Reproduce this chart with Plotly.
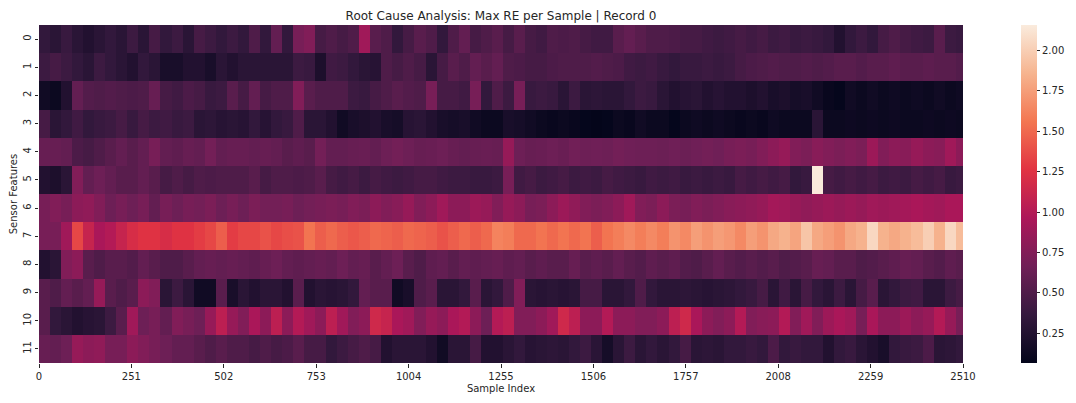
import plotly.graph_objects as go

# sample-index bins (edges) of 30 samples each, 0..2510
bin_edges = list(range(0, 2510, 30)) + [2510]

sensor_labels = [str(i) for i in range(12)]
x_ticks = [0, 251, 502, 753, 1004, 1255, 1506, 1757, 2008, 2259, 2510]

# max reconstruction error per bin, one list per sensor feature
sensor_0 = [0.35, 0.3, 0.38, 0.3, 0.25, 0.3, 0.35, 0.3, 0.4, 0.3, 0.45, 0.35, 0.4, 0.3, 0.45, 0.4, 0.35, 0.4, 0.35, 0.5, 0.35,
            0.6, 0.35, 0.7, 0.75, 0.45, 0.5, 0.45, 0.5, 0.9, 0.55, 0.5, 0.35, 0.45, 0.55, 0.5, 0.35, 0.5, 0.6, 0.45, 0.5, 0.55,
            0.45, 0.55, 0.45, 0.42, 0.5, 0.48, 0.5, 0.45, 0.42, 0.42, 0.55, 0.6, 0.55, 0.5, 0.5, 0.48, 0.45, 0.45, 0.42, 0.4, 0.42,
            0.45, 0.42, 0.45, 0.4, 0.42, 0.38, 0.4, 0.38, 0.35, 0.25, 0.35, 0.4, 0.35, 0.45, 0.5, 0.45, 0.42, 0.4, 0.55, 0.4, 0.38]
sensor_1 = [0.4, 0.45, 0.4, 0.35, 0.3, 0.4, 0.35, 0.3, 0.25, 0.35, 0.3, 0.2, 0.2, 0.25, 0.25, 0.2, 0.3, 0.25, 0.3, 0.3, 0.3,
            0.3, 0.3, 0.4, 0.38, 0.22, 0.42, 0.4, 0.35, 0.3, 0.28, 0.5, 0.45, 0.5, 0.45, 0.3, 0.45, 0.55, 0.5, 0.6, 0.55, 0.6,
            0.5, 0.48, 0.45, 0.45, 0.48, 0.5, 0.5, 0.5, 0.52, 0.5, 0.48, 0.42, 0.4, 0.42, 0.38, 0.35, 0.38, 0.38, 0.4, 0.38, 0.4,
            0.45, 0.48, 0.5, 0.52, 0.5, 0.5, 0.52, 0.5, 0.52, 0.55, 0.55, 0.52, 0.55, 0.55, 0.58, 0.55, 0.55, 0.57, 0.55, 0.55, 0.52]
sensor_2 = [0.15, 0.12, 0.25, 0.6, 0.52, 0.5, 0.52, 0.5, 0.48, 0.5, 0.62, 0.45, 0.42, 0.48, 0.45, 0.38, 0.4, 0.55, 0.45, 0.6, 0.45,
            0.5, 0.5, 0.75, 0.55, 0.5, 0.5, 0.5, 0.4, 0.38, 0.45, 0.5, 0.55, 0.52, 0.5, 0.7, 0.45, 0.45, 0.42, 0.7, 0.35, 0.5,
            0.4, 0.7, 0.38, 0.4, 0.38, 0.3, 0.4, 0.3, 0.32, 0.3, 0.3, 0.35, 0.4, 0.38, 0.3, 0.25, 0.28, 0.3, 0.25, 0.28, 0.25,
            0.25, 0.22, 0.25, 0.2, 0.22, 0.18, 0.2, 0.15, 0.1, 0.08, 0.15, 0.12, 0.15, 0.12, 0.14, 0.12, 0.14, 0.12, 0.15, 0.12, 0.14]
sensor_3 = [0.45, 0.3, 0.35, 0.42, 0.35, 0.38, 0.4, 0.45, 0.38, 0.45, 0.4, 0.42, 0.38, 0.4, 0.3, 0.32, 0.28, 0.3, 0.28, 0.35, 0.28,
            0.35, 0.38, 0.5, 0.3, 0.3, 0.25, 0.15, 0.2, 0.22, 0.25, 0.2, 0.18, 0.28, 0.3, 0.25, 0.2, 0.18, 0.2, 0.15, 0.12, 0.12,
            0.2, 0.18, 0.15, 0.12, 0.1, 0.12, 0.1, 0.08, 0.07, 0.08, 0.12, 0.1, 0.15, 0.12, 0.12, 0.08, 0.12, 0.14, 0.12, 0.14, 0.12,
            0.1, 0.12, 0.1, 0.14, 0.12, 0.12, 0.12, 0.3, 0.12, 0.12, 0.13, 0.12, 0.13, 0.12, 0.13, 0.12, 0.12, 0.13, 0.12, 0.13, 0.12]
sensor_4 = [0.62, 0.62, 0.6, 0.48, 0.45, 0.5, 0.55, 0.6, 0.55, 0.6, 0.7, 0.6, 0.58, 0.62, 0.6, 0.68, 0.6, 0.62, 0.62, 0.6, 0.62,
            0.6, 0.55, 0.58, 0.55, 0.68, 0.6, 0.6, 0.62, 0.63, 0.6, 0.65, 0.68, 0.65, 0.62, 0.63, 0.65, 0.62, 0.6, 0.62, 0.63, 0.62,
            0.85, 0.65, 0.62, 0.63, 0.65, 0.63, 0.67, 0.65, 0.66, 0.65, 0.68, 0.66, 0.65, 0.65, 0.64, 0.66, 0.64, 0.66, 0.68, 0.66, 0.7,
            0.72, 0.7, 0.75, 0.8, 0.85, 0.75, 0.72, 0.78, 0.75, 0.72, 0.75, 0.72, 0.88, 0.75, 0.8, 0.78, 0.85, 0.8, 0.78, 0.9, 0.8]
sensor_5 = [0.25, 0.22, 0.3, 0.75, 0.6, 0.65, 0.6, 0.55, 0.55, 0.6, 0.55, 0.45, 0.5, 0.45, 0.5, 0.48, 0.5, 0.5, 0.5, 0.55, 0.45,
            0.5, 0.5, 0.48, 0.5, 0.55, 0.45, 0.42, 0.45, 0.4, 0.45, 0.42, 0.4, 0.42, 0.45, 0.45, 0.42, 0.4, 0.4, 0.38, 0.38, 0.4,
            0.7, 0.42, 0.45, 0.4, 0.42, 0.45, 0.4, 0.42, 0.4, 0.45, 0.42, 0.4, 0.38, 0.42, 0.4, 0.42, 0.38, 0.4, 0.38, 0.4, 0.38,
            0.45, 0.42, 0.45, 0.42, 0.45, 0.35, 0.38, 2.15, 0.45, 0.42, 0.45, 0.42, 0.45, 0.4, 0.42, 0.4, 0.45, 0.42, 0.45, 0.38, 0.4]
sensor_6 = [0.7, 0.75, 0.7, 0.8, 0.82, 0.75, 0.65, 0.7, 0.65, 0.7, 0.6, 0.7, 0.65, 0.7, 0.68, 0.72, 0.65, 0.7, 0.65, 0.72, 0.68,
            0.68, 0.7, 0.65, 0.68, 0.7, 0.72, 0.7, 0.75, 0.72, 0.8, 0.75, 0.78, 0.85, 0.75, 0.8, 0.9, 0.8, 0.8, 0.88, 0.85, 0.75,
            0.85, 0.8, 0.7, 0.72, 0.8, 0.88, 0.82, 0.75, 0.72, 0.75, 0.8, 0.9, 0.75, 0.72, 0.8, 0.72, 0.7, 0.75, 0.72, 0.75, 0.78,
            0.8, 0.82, 0.85, 0.92, 0.9, 0.85, 0.82, 0.85, 0.88, 0.85, 0.88, 0.85, 0.9, 0.88, 0.9, 0.92, 0.95, 0.92, 0.9, 0.95, 0.95]
sensor_7 = [0.7, 0.7, 0.9, 1.35, 1.1, 0.95, 1.0, 1.1, 1.2, 1.25, 1.25, 1.2, 1.25, 1.25, 1.3, 1.35, 1.45, 1.3, 1.35, 1.35, 1.4,
            1.35, 1.38, 1.4, 1.55, 1.45, 1.5, 1.45, 1.42, 1.45, 1.5, 1.48, 1.45, 1.5, 1.48, 1.45, 1.4, 1.45, 1.5, 1.45, 1.5, 1.62,
            1.6, 1.5, 1.5, 1.55, 1.5, 1.55, 1.5, 1.55, 1.45, 1.55, 1.6, 1.65, 1.6, 1.65, 1.6, 1.7, 1.65, 1.75, 1.7, 1.75, 1.72,
            1.65, 1.75, 1.7, 1.8, 1.85, 1.78, 1.95, 1.8, 1.75, 1.7, 1.8, 1.85, 2.05, 1.85, 1.8, 1.85, 1.9, 2.0, 1.85, 2.05, 1.9]
sensor_8 = [0.25, 0.3, 0.75, 0.8, 0.55, 0.5, 0.55, 0.55, 0.52, 0.6, 0.55, 0.5, 0.5, 0.55, 0.6, 0.62, 0.6, 0.62, 0.6, 0.58, 0.62,
            0.65, 0.6, 0.58, 0.6, 0.62, 0.6, 0.65, 0.6, 0.62, 0.55, 0.6, 0.65, 0.55, 0.5, 0.58, 0.6, 0.55, 0.6, 0.58, 0.6, 0.62,
            0.58, 0.6, 0.55, 0.58, 0.55, 0.55, 0.62, 0.55, 0.58, 0.55, 0.6, 0.55, 0.52, 0.58, 0.55, 0.58, 0.52, 0.5, 0.55, 0.6, 0.55,
            0.52, 0.55, 0.52, 0.55, 0.5, 0.52, 0.55, 0.62, 0.6, 0.55, 0.55, 0.5, 0.52, 0.55, 0.58, 0.62, 0.6, 0.55, 0.52, 0.58, 0.55]
sensor_9 = [0.55, 0.5, 0.6, 0.55, 0.6, 0.85, 0.55, 0.5, 0.55, 0.8, 0.75, 0.3, 0.4, 0.3, 0.15, 0.15, 0.55, 0.2, 0.3, 0.25, 0.3,
            0.3, 0.25, 0.55, 0.25, 0.3, 0.28, 0.3, 0.35, 0.6, 0.55, 0.55, 0.15, 0.2, 0.5, 0.55, 0.3, 0.3, 0.35, 0.55, 0.3, 0.35,
            0.5, 0.75, 0.3, 0.28, 0.3, 0.28, 0.3, 0.45, 0.45, 0.3, 0.3, 0.35, 0.5, 0.35, 0.3, 0.3, 0.32, 0.3, 0.28, 0.3, 0.32,
            0.35, 0.38, 0.45, 0.3, 0.42, 0.3, 0.45, 0.35, 0.3, 0.4, 0.3, 0.45, 0.55, 0.3, 0.35, 0.4, 0.42, 0.3, 0.3, 0.4, 0.45]
sensor_10 = [0.55, 0.35, 0.3, 0.25, 0.28, 0.3, 0.4, 0.55, 0.9, 0.65, 0.7, 0.6, 0.75, 0.7, 0.65, 0.85, 1.05, 0.85, 0.75, 0.95, 0.8,
             1.05, 0.8, 1.0, 0.9, 0.8, 1.05, 0.9, 0.75, 0.8, 1.15, 1.1, 0.95, 0.9, 0.75, 0.85, 0.8, 0.95, 1.0, 0.8, 0.65, 1.0,
             1.05, 0.75, 0.75, 0.8, 0.9, 1.15, 1.05, 0.8, 0.8, 1.0, 0.8, 0.8, 0.75, 0.75, 0.8, 1.05, 1.15, 0.95, 0.8, 0.75, 0.8,
             1.0, 0.75, 0.78, 0.8, 1.0, 0.75, 0.9, 0.75, 0.88, 0.95, 0.9, 0.7, 0.95, 0.8, 0.8, 0.88, 0.8, 0.85, 1.0, 0.85, 0.7]
sensor_11 = [0.62, 0.6, 0.65, 0.85, 0.8, 0.82, 0.7, 0.7, 0.8, 0.75, 0.7, 0.65, 0.6, 0.6, 0.55, 0.5, 0.55, 0.5, 0.5, 0.45, 0.5,
             0.45, 0.48, 0.55, 0.45, 0.45, 0.35, 0.4, 0.45, 0.5, 0.45, 0.25, 0.3, 0.3, 0.3, 0.25, 0.15, 0.3, 0.3, 0.45, 0.25, 0.25,
             0.3, 0.35, 0.28, 0.3, 0.32, 0.3, 0.35, 0.4, 0.3, 0.18, 0.3, 0.4, 0.3, 0.35, 0.3, 0.35, 0.45, 0.3, 0.32, 0.3, 0.35,
             0.35, 0.38, 0.35, 0.48, 0.35, 0.38, 0.35, 0.35, 0.25, 0.35, 0.38, 0.3, 0.25, 0.2, 0.35, 0.38, 0.4, 0.48, 0.3, 0.32, 0.35]

z = [sensor_0, sensor_1, sensor_2, sensor_3, sensor_4, sensor_5,
     sensor_6, sensor_7, sensor_8, sensor_9, sensor_10, sensor_11]

# seaborn "rocket"
rocket = [
    [0.0, "#03051a"], [0.143, "#35193e"], [0.286, "#701f57"], [0.429, "#ad1759"],
    [0.571, "#e13342"], [0.714, "#f37651"], [0.857, "#f6b48f"], [1.0, "#faebdd"],
]

font = dict(family="DejaVu Sans", size=10, color="#262626")

fig = go.Figure(go.Heatmap(
    z=z,
    x=bin_edges,
    y=list(range(12)),
    colorscale=rocket,
    zmin=0.067,
    zmax=2.157,
    colorbar=dict(
        x=1.0628, xanchor="left", xpad=0,
        y=0.5, yanchor="middle", len=1.0, lenmode="fraction", ypad=0,
        thickness=16, outlinewidth=0,
        tickvals=[0.25, 0.5, 0.75, 1.0, 1.25, 1.5, 1.75, 2.0],
        tickformat=".2f", ticks="outside", ticklen=3.5, tickcolor="#262626",
        tickfont=font,
    ),
))

# the page body adds an 8 px offset, so margins are shifted by that amount
fig.update_layout(
    width=1076, height=403,
    margin=dict(l=31, r=121, t=17, b=48, autoexpand=False),
    paper_bgcolor="white", plot_bgcolor="white",
    font=font,
    title=dict(text="Root Cause Analysis: Max RE per Sample | Record 0",
               x=(31 + 955) / 2 / 1076, xanchor="center", y=1 - 7.5 / 403, yanchor="middle",
               font=dict(family="DejaVu Sans", size=12, color="#262626")),
)
fig.update_xaxes(
    range=[0, 2510], tickvals=x_ticks, ticktext=[str(t) for t in x_ticks],
    ticks="outside", ticklen=3.5, tickcolor="#262626", showgrid=False, zeroline=False,
    showline=False, automargin=False, title=dict(text="Sample Index", standoff=4, font=font),
)
fig.update_yaxes(
    range=[11.5, -0.5], tickvals=list(range(12)), ticktext=sensor_labels, tickangle=-90,
    ticks="outside", ticklen=3.5, tickcolor="#262626", showgrid=False, zeroline=False,
    showline=False, automargin=False, title=dict(text="Sensor Features", standoff=2, font=font),
)

fig.write_html("out.html")
